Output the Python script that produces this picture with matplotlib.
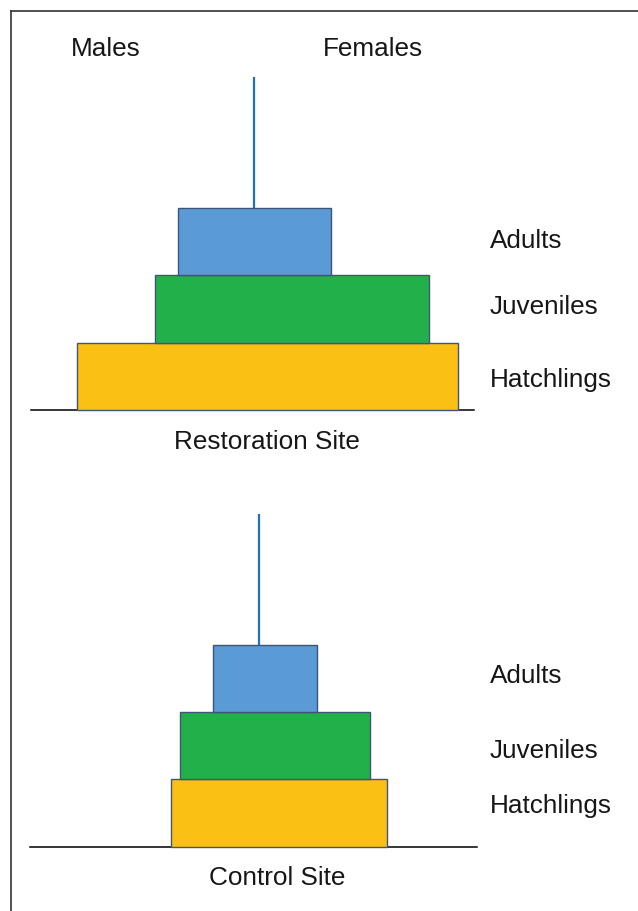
import matplotlib
matplotlib.use("Agg")
import matplotlib.pyplot as plt
from matplotlib.lines import Line2D

plt.rcParams["font.family"] = ["Liberation Sans", "DejaVu Sans"]
plt.rcParams["font.sans-serif"] = ["Liberation Sans", "DejaVu Sans"]

# ---- data (bar half-widths, males to the left / females to the right) ----
stages = ["Hatchlings", "Juveniles", "Adults"]
restoration_males = [176.5, 98.5, 75.5]
restoration_females = [204.5, 175.5, 77.5]
control_males = [88.6, 79.3, 46.0]
control_females = [128.0, 110.7, 58.0]
site_titles = ["Restoration Site", "Control Site"]
sex_labels = ["Males", "Females"]

colors = ["#fbc014", "#22b04b", "#5b9bd5"]
edge = "#3f5577"

W, H = 638, 911
fig = plt.figure(figsize=(W / 100, H / 100), dpi=100)
FS = 18.8
FAM = ["Liberation Sans", "DejaVu Sans"]
TXT = "#161616"


def fx(px):
    return px / W


def fy(py):
    return 1 - py / H


# frame (top and left edges visible)
fig.add_artist(Line2D([fx(11), 1], [fy(11), fy(11)], color="#333333", lw=1.2))
fig.add_artist(Line2D([fx(11), fx(11)], [fy(11), 0], color="#333333", lw=1.2))

panels = [
    dict(males=restoration_males, females=restoration_females, center=253.5,
         top=208, bottom=410, line_top=77, base=(31, 474), title=site_titles[0],
         title_xy=(266.5, 449), label_base=[387, 314, 248]),
    dict(males=control_males, females=control_females, center=259.3,
         top=645, bottom=846.5, line_top=514, base=(30, 477), title=site_titles[1],
         title_xy=(276.7, 885), label_base=[813, 758, 683]),
]

for p in panels:
    ax = fig.add_axes([0, 0, 1, 1])
    ax.set_facecolor("none")
    ax.axis("off")
    h = (p["bottom"] - p["top"]) / 3
    ax.set_xlim(-p["center"], W - p["center"])
    ax.set_ylim((p["bottom"] - H) / h - 0.5, p["bottom"] / h - 0.5)
    ypos = list(range(len(stages)))
    widths = [m + f for m, f in zip(p["males"], p["females"])]
    lefts = [-m for m in p["males"]]
    ax.barh(ypos, widths, left=lefts, height=1.0, color=colors,
            edgecolor=edge, linewidth=1.0, zorder=3)
    # central axis line
    ax.vlines(0, len(stages) - 0.5, (p["bottom"] - p["line_top"]) / h - 0.5,
              color="#2271b5", lw=1.6, zorder=2)
    # ground line
    ax.axhline(-0.5, xmin=fx(p["base"][0]), xmax=fx(p["base"][1]),
               color="black", lw=1.1, zorder=1)
    # stage labels
    for s, yb in zip(stages, p["label_base"]):
        fig.text(fx(490), fy(yb), s, fontsize=FS, family=FAM, ha="left",
                 va="baseline", color=TXT)
    fig.text(fx(p["title_xy"][0]), fy(p["title_xy"][1]), p["title"],
             fontsize=FS, family=FAM, ha="center", va="baseline", color=TXT)

fig.text(fx(106), fy(56), sex_labels[0], fontsize=FS, family=FAM, ha="center",
         va="baseline", color=TXT)
fig.text(fx(373), fy(56), sex_labels[1], fontsize=FS, family=FAM, ha="center",
         va="baseline", color=TXT)

fig.savefig("out.png", dpi=100, facecolor="white")
